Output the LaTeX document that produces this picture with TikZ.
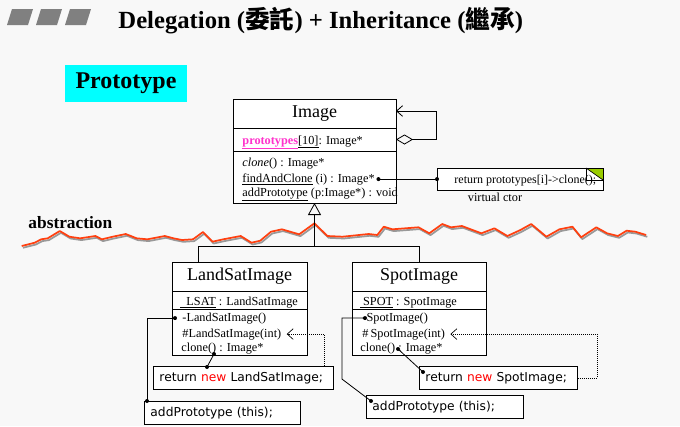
\documentclass[tikz,border=0pt]{standalone}
\usepackage{fontspec}
\setmainfont{Liberation Serif}
\newfontfamily\codefont{DejaVu Sans}
\newfontfamily\cjkfont{Noto Sans CJK TC}
\usepackage{tikz}
\usetikzlibrary{arrows.meta,positioning}
\definecolor{bgpaper}{HTML}{F8F8F8}
\definecolor{protocyan}{HTML}{00FFFF}
\definecolor{protomag}{HTML}{FF33CC}
\definecolor{wavered}{HTML}{FF4010}
\definecolor{notegreen}{HTML}{99CC00}
\definecolor{bargray}{HTML}{808080}
% the hand-drawn "abstraction" line
\newcommand{\abswave}[1]{\draw[#1] (21.7,246) -- (34.7,242.7) -- (41.2,239.3) -- (47.7,238.3) -- (59.8,231) -- (69.4,236.7) -- (80.2,238.3) -- (95.4,236) -- (101.9,239.3) -- (112.7,236.7) -- (125.8,234) -- (136.6,238.3) -- (147.4,239.3) -- (164.8,236) -- (173.5,238.3) -- (182.1,240) -- (193,239.3) -- (203,232) -- (212.5,241.7) -- (223.3,239.3) -- (240.7,236) -- (251.5,242.7) -- (260.2,240.7) -- (271,231.7) -- (281.9,229.3) -- (299.2,234.3) -- (314.4,223.3) -- (327.4,236) -- (342.6,236.7) -- (368.6,234) -- (377.3,235) -- (383.8,226.7) -- (392.5,229.3) -- (405.5,228.3) -- (418.5,227.3) -- (429.3,233.3) -- (442.3,224) -- (451,227.3) -- (461.9,226) -- (481.4,233.3) -- (494.4,228.3) -- (507.4,236) -- (520.4,230) -- (531.2,224) -- (546.4,236.7) -- (559.4,229.3) -- (572.4,226.7) -- (581.1,237.3) -- (596.3,227.3) -- (607.1,233.3) -- (617.9,236) -- (626.6,230.7) -- (635.3,231.7) -- (646.1,235);}

\begin{document}
\begin{tikzpicture}[x=0.75pt,y=-0.75pt,line width=0.7pt,
  box/.style={draw,fill=white,outer sep=0pt,inner sep=0pt},
  clsname/.style={box,font=\fontsize{13.5}{16}\selectfont},
  mem/.style={anchor=base west,inner sep=0pt,font=\fontsize{9.2}{11}\selectfont},
  codebox/.style={draw,fill=white,anchor=north west,inner xsep=4.5pt,inner ysep=0pt,minimum height=17.25pt,align=left,font=\codefont\fontsize{9.2}{11}\selectfont},
  conn/.style={line width=0.6pt},
  dep/.style={densely dotted,line width=0.5pt,-{Straight Barb[length=4.5pt,width=8pt]}},
  wave/.style={wavered,line width=1.3pt,line join=round},
  waveshadow/.style={black!40,line width=1.3pt,line join=round,shift={(1.2,1.8)}}]
\fill[bgpaper] (0,0) rectangle (680,426);
\useasboundingbox (0,0) rectangle (680,426);
% title bar
\foreach \x in {7,36,65}
  \fill[bargray] (\x,25) -- ++(21,0) -- ++(5,-16) -- ++(-21,0) -- cycle;
\node[anchor=base west,inner sep=0pt,font=\bfseries\fontsize{18.5}{22}\selectfont] (title) at (118,28) {Delegation ({\cjkfont 委託}) + Inheritance ({\cjkfont 繼承})};
\node[fill=protocyan,minimum width=91.5pt,minimum height=27.75pt,inner sep=0pt,font=\bfseries\fontsize{18}{20}\selectfont] (proto) at (126,83.5) {Prototype};

% abstraction line
\abswave{waveshadow}
\abswave{wave}
\node[anchor=base west,inner sep=0pt,font=\bfseries\fontsize{13}{15}\selectfont] (abstr) at (28,228) {abstraction};

% Image
\node[clsname,minimum width=122.25pt,minimum height=21.75pt] (imgName) at (314.5,113.5) {Image};
\node[box,minimum width=122.25pt,minimum height=17.25pt,anchor=north] (imgAttr) at (imgName.south) {};
\node[box,minimum width=122.25pt,minimum height=39pt,anchor=north] (imgOps) at (imgAttr.south) {};
\node[mem] (imgProto) at (242,144) {\textcolor{protomag}{\underline{\textbf{prototypes}}}\underline{[10]}: Image*};
\node[mem] (imgClone) at (242,166) {\textit{clone}() : Image*};
\node[mem] (imgFind) at (242,182) {\underline{findAndClone} (i) : Image*};
\node[mem] (imgAdd) at (242,196) {\underline{addPrototype} (p:Image*) : void};
\draw[conn,{Diamond[open,length=12.75pt,width=7.5pt]}-{Straight Barb[length=4.5pt,width=8pt]}] (imgAttr.east) -- ++(40,0) |- ([shift={(0,-2.5)}]imgName.east);

% note
\node[box,minimum width=124.5pt,minimum height=16.5pt,font=\fontsize{9}{11}\selectfont] (note) at (520,179) {};
\fill[notegreen] ([shift={(-17,0)}]note.north east) -- (note.north east) -- ([shift={(0,12)}]note.north east) -- cycle;
\draw[line width=0.5pt] ([shift={(-17,0)}]note.north east) rectangle ([shift={(0,12)}]note.north east);
\draw[line width=0.5pt] ([shift={(-17,0)}]note.north east) -- ([shift={(0,12)}]note.north east);
\node[anchor=base west,inner sep=0pt,font=\fontsize{9}{11}\selectfont] (noteText) at ([shift={(17,4.5)}]note.west) {return prototypes[i]->clone();};
\node[inner sep=0pt,font=\fontsize{9.2}{11}\selectfont] (vctor) at (495,197) {virtual ctor};
\coordinate (findDot) at ([xshift=2.5pt]imgFind.east);
\coordinate (noteDot) at (findDot -| note.west);
\draw[conn] (findDot) -- (noteDot);

% LandSatImage
\node[clsname,minimum width=101.25pt,minimum height=21.75pt] (lsName) at (239.5,276.5) {LandSatImage};
\node[box,minimum width=101.25pt,minimum height=13.5pt,anchor=north] (lsAttr) at (lsName.south) {};
\node[box,minimum width=101.25pt,minimum height=34.5pt,anchor=north] (lsOps) at (lsAttr.south) {};
\node[mem] (lsStat) at (180,305) {\underline{\hspace{4.5pt}LSAT} : LandSatImage};
\node[mem] (lsCtor) at (182,321) {-LandSatImage()};
\node[mem] (lsProt) at (182,337) {\#LandSatImage(int)};
\node[mem] (lsClone) at (181,351.5) {clone() : Image*};

% SpotImage
\node[clsname,minimum width=100.5pt,minimum height=21.75pt] (spName) at (419,276.5) {SpotImage};
\node[box,minimum width=100.5pt,minimum height=13.5pt,anchor=north] (spAttr) at (spName.south) {};
\node[box,minimum width=100.5pt,minimum height=34.5pt,anchor=north] (spOps) at (spAttr.south) {};
\node[mem] (spStat) at (360,305) {\underline{\hspace{2pt}SPOT} : SpotImage};
\node[mem] (spCtor) at (362,321) {-SpotImage()};
\node[mem] (spProt) at (362,337) {\#\,SpotImage(int)};
\node[mem] (spClone) at (360,351.5) {clone() : Image*};

% generalization
\coordinate (gJoin) at (314.5,246);
\draw[conn,-{Triangle[open,length=9pt,width=9.75pt]}] (gJoin) -- (imgOps.south);
\draw[conn] ([shift={(-41.5,0)}]lsName.north) |- (gJoin) -| (spName.north);

% code boxes
\node[codebox,text width=126pt] (lsRet) at (153,366) {return {\color{red}new} LandSatImage;};
\node[codebox,text width=108pt] (lsAdd) at (144,401) {addPrototype (this);};
\node[codebox,text width=109.5pt] (spRet) at (419,366) {return {\color{red}new} SpotImage;};
\node[codebox,text width=108.75pt] (spAdd) at (366,395) {addPrototype (this);};

\coordinate (lsCtorDot) at ([shift={(-7,0)}]lsCtor.west);
\coordinate (lsAddDot) at ([shift={(3,0)}]lsAdd.north west);
\coordinate (lsCloneDot) at ([shift={(33,2.5)}]lsClone.base west);
\coordinate (lsRetDot) at ([shift={(54,1)}]lsRet.north west);
\draw[conn] (lsCtorDot) -| (lsAddDot);
\draw[conn] (lsCloneDot) -- (lsRetDot);
\draw[dep] ([shift={(-10,0)}]lsRet.north east) |- ([shift={(5,0)}]lsProt.east);

\coordinate (spCtorDot) at ([shift={(3,0)}]spCtor.west);
\coordinate (spAddDot) at ([shift={(5,6)}]spAdd.north west);
\coordinate (spCloneDot) at ([shift={(38,-2.5)}]spClone.base west);
\coordinate (spRetDot) at ([shift={(4,6)}]spRet.north west);
\draw[conn] (spCtorDot) -- ++(-23,0) -- ++(0,61) -- (spAddDot);
\draw[conn] (spCloneDot) -- (spRetDot);
\draw[dep] (spRet.east) -- ++(19,0) |- ([shift={(5,0)}]spProt.east);

\foreach \d in {findDot,noteDot,lsCtorDot,lsAddDot,lsCloneDot,lsRetDot,spCtorDot,spAddDot,spCloneDot,spRetDot}
  \fill (\d) circle (1.5pt);
\end{tikzpicture}
\end{document}
